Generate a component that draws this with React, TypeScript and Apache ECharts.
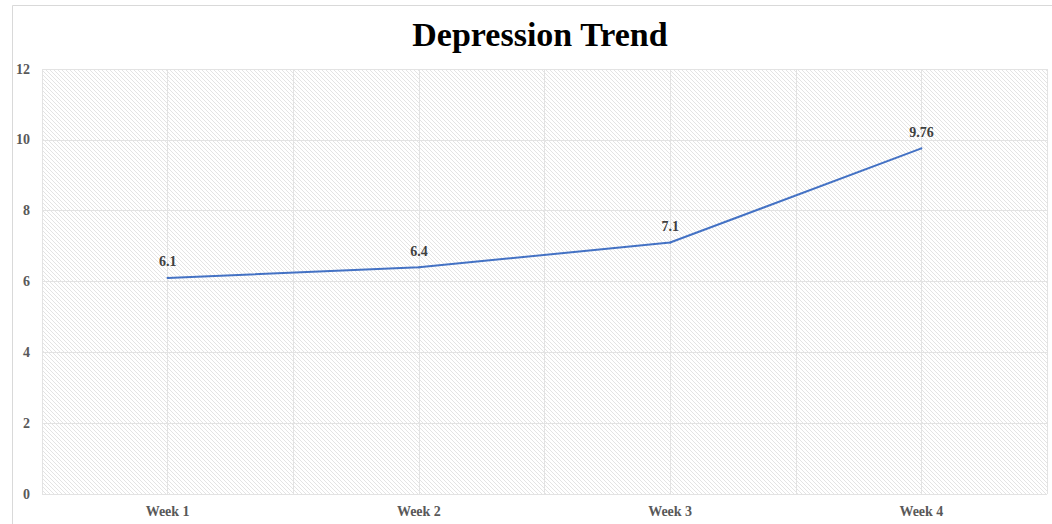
import React, { useEffect, useRef } from "react";
import * as echarts from "echarts";

const weeks = ["Week 1", "Week 2", "Week 3", "Week 4"];
const depressionScores = [6.1, 6.4, 7.1, 9.76];
const yTicks = { min: 0, max: 12, interval: 2 };

const SERIF = "'Liberation Serif', 'Times New Roman', serif";

// Diagonal hatch tile for the plot background
const hatchSvg =
  "<svg xmlns='http://www.w3.org/2000/svg' width='4' height='4'>" +
  "<rect width='4' height='4' fill='#ffffff'/>" +
  "<path d='M-1,-1 L5,5 M-1,3 L1,5 M3,-1 L5,1' stroke='#e4e4e4' stroke-width='1'/>" +
  "</svg>";
const hatchUrl = "data:image/svg+xml;charset=utf-8," + encodeURIComponent(hatchSvg);

export default function App() {
  const ref = useRef<HTMLDivElement>(null);

  useEffect(() => {
    if (!ref.current) return;
    const chart = echarts.init(ref.current, undefined, { renderer: "svg" });
    chart.setOption({
      animation: false,
      backgroundColor: "#ffffff",
      title: {
        text: "Depression Trend",
        left: 535,
        top: 12,
        textAlign: "center",
        textStyle: {
          fontFamily: SERIF,
          fontWeight: "bold",
          fontSize: 34,
          color: "#000000",
        },
      },
      graphic: [
        {
          type: "rect",
          left: 10,
          top: 3,
          shape: { width: 1100, height: 600 },
          style: { fill: "none", stroke: "#d9d9d9", lineWidth: 1 },
          silent: true,
          z: -1,
        },
      ],
      grid: {
        left: 42,
        right: 5,
        top: 69,
        bottom: 30,
        show: true,
        borderWidth: 0,
        backgroundColor: { image: hatchUrl, repeat: "repeat" },
      },
      xAxis: [
        {
          type: "category",
          data: weeks,
          boundaryGap: true,
          axisLine: { show: false },
          axisTick: { show: false },
          splitLine: { show: false },
          axisLabel: {
            margin: 10,
            fontFamily: SERIF,
            fontWeight: "bold",
            fontSize: 14,
            color: "#595959",
          },
        },
        {
          // helper axis carrying vertical gridlines at centres and boundaries
          type: "value",
          min: -0.5,
          max: weeks.length - 0.5,
          interval: 0.5,
          show: true,
          position: "bottom",
          axisLine: { show: false },
          axisTick: { show: false },
          axisLabel: { show: false },
          splitLine: { show: true, lineStyle: { color: "#e3e3e3", width: 1 } },
        },
      ],
      yAxis: {
        type: "value",
        min: yTicks.min,
        max: yTicks.max,
        interval: yTicks.interval,
        axisLine: { show: false },
        axisTick: { show: false },
        splitLine: { show: true, lineStyle: { color: "#e3e3e3", width: 1 } },
        axisLabel: {
          margin: 12,
          fontFamily: SERIF,
          fontWeight: "bold",
          fontSize: 14,
          color: "#595959",
        },
      },
      series: [
        {
          type: "line",
          xAxisIndex: 0,
          data: depressionScores,
          symbol: "circle",
          symbolSize: 2,
          showSymbol: true,
          lineStyle: { color: "#4472C4", width: 2 },
          itemStyle: { color: "#4472C4" },
          label: {
            show: true,
            position: "top",
            distance: 8,
            fontFamily: SERIF,
            fontWeight: "bold",
            fontSize: 14,
            color: "#404040",
          },
        },
      ],
    });
    return () => chart.dispose();
  }, []);

  return (
    <div
      ref={ref}
      style={{ position: "absolute", left: 0, top: 0, width: 1052, height: 524 }}
    />
  );
}
